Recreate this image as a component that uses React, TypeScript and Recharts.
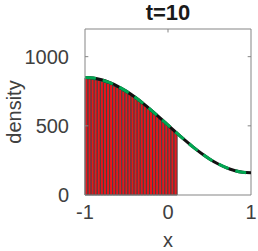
import { ComposedChart, Line, XAxis, YAxis, ReferenceArea, ReferenceLine } from 'recharts'

// histogram bins: left edge, right edge, height
const binLeft = [
  -1, -0.963, -0.926, -0.889, -0.852, -0.815, -0.778, -0.741, -0.704, -0.667,
  -0.63, -0.593, -0.556, -0.519, -0.482, -0.445, -0.408, -0.371, -0.334, -0.297,
  -0.26, -0.223, -0.186, -0.149, -0.112, -0.075, -0.038, -0.001, 0.036, 0.073,
]
const binHeight = [
  846, 842, 838, 832, 828, 822, 814, 806, 798, 786,
  778, 766, 752, 740, 728, 712, 696, 680, 662, 645,
  626, 606, 588, 570, 550, 530, 510, 490, 472, 455,
]
const binWidth = 0.037

// exact density curve
const curveX = [-1, -0.9, -0.8, -0.7, -0.6, -0.5, -0.4, -0.3, -0.2, -0.1, 0, 0.1, 0.2, 0.3, 0.4, 0.5, 0.6, 0.7, 0.8, 0.9, 1]
const curveY = [850, 846, 833, 812, 784, 749, 708, 662, 612, 559, 505, 451, 398, 348, 302, 261, 226, 198, 177, 164, 160]

const xTicks = [-1, 0, 1]
const yTicks = [0, 500, 1000]
const Y_MAX = 1200

const curve = curveX.map((x, i) => ({ x, y: curveY[i] }))

const FONT = 'Liberation Sans, Arial, sans-serif'
const AXIS = '#858585'
const TEXT = '#404040'

export default function App() {
  return (
    <div style={{ position: 'absolute', left: 0, top: 0, width: 258, height: 251, background: '#fff', fontFamily: FONT }}>
      <div style={{ position: 'absolute', left: 85, width: 166, top: 0, textAlign: 'center', fontWeight: 'bold', fontSize: 22, color: '#1a1a1a', zIndex: 1 }}>
        t=10
      </div>
      <ComposedChart width={258} height={251} data={curve} margin={{ top: 29, right: 7, bottom: 0, left: 0 }}>
        <XAxis dataKey="x" type="number" domain={[-1, 1]} ticks={xTicks} allowDataOverflow
          height={56} tickLine={false} stroke={AXIS} tickMargin={4}
          tick={{ fontSize: 20, fill: TEXT, fontFamily: FONT }}
          label={{ value: 'x', position: 'insideBottom', offset: 4, fontSize: 20, fill: TEXT, fontFamily: FONT }} />
        <YAxis type="number" domain={[0, Y_MAX]} ticks={yTicks} allowDataOverflow
          width={85} tickLine={false} stroke={AXIS} tickMargin={10}
          tick={{ fontSize: 20, fill: TEXT, fontFamily: FONT }}
          label={{ value: 'density', angle: -90, position: 'insideLeft', offset: 14, fontSize: 20, fill: TEXT, fontFamily: FONT, style: { textAnchor: 'middle' } }} />
        {binLeft.map((x1, i) => (
          <ReferenceArea key={i} x1={x1} x2={x1 + binWidth} y1={0} y2={binHeight[i]}
            fill="#e8161c" fillOpacity={1} stroke="#444" strokeWidth={1} />
        ))}
        <ReferenceLine y={Y_MAX} stroke={AXIS} />
        <ReferenceLine x={1} stroke={AXIS} />
        {/* inward tick marks on the top and right frame */}
        {xTicks.slice(1, -1).map(t => (
          <ReferenceLine key={'xt' + t} segment={[{ x: t, y: Y_MAX }, { x: t, y: Y_MAX - 25 }]} stroke={AXIS} />
        ))}
        {yTicks.slice(1).map(t => (
          <ReferenceLine key={'yt' + t} segment={[{ x: 1, y: t }, { x: 0.96, y: t }]} stroke={AXIS} />
        ))}
        {yTicks.slice(1).map(t => (
          <ReferenceLine key={'yl' + t} segment={[{ x: -1, y: t }, { x: -0.96, y: t }]} stroke={AXIS} />
        ))}
        <Line dataKey="y" type="monotone" stroke="#111" strokeWidth={3} dot={false} isAnimationActive={false} />
        <Line dataKey="y" type="monotone" stroke="#00a651" strokeWidth={3} strokeDasharray="11 7" dot={false} isAnimationActive={false} />
      </ComposedChart>
    </div>
  )
}
